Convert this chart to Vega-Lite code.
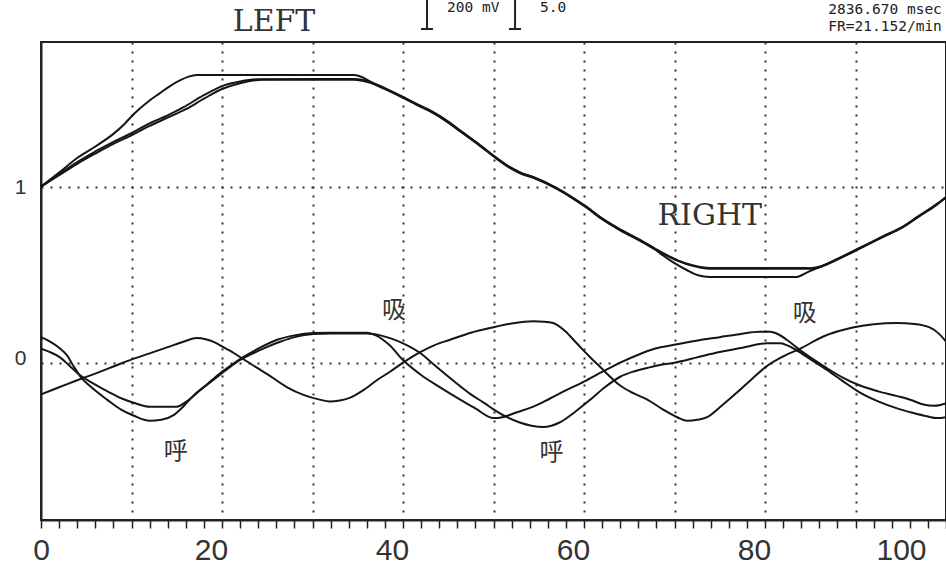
{
  "$schema": "https://vega.github.io/schema/vega-lite/v6.json",
  "width": 905,
  "height": 478,
  "autosize": {"type": "none"},
  "padding": {"left": 41, "top": 42, "right": 0, "bottom": 46},
  "background": "white",
  "config": {"view": {"stroke": "#222", "strokeWidth": 2}},
  "datasets": {
    "curves": [
      {"s":"U1","x":0,"y":1.0},{"s":"U1","x":2,"y":1.08},{"s":"U1","x":4,"y":1.163},{"s":"U1","x":6,"y":1.228},{"s":"U1","x":8,"y":1.3},{"s":"U1","x":9.2,"y":1.355},{"s":"U1","x":10.2,"y":1.41},{"s":"U1","x":12,"y":1.49},{"s":"U1","x":13.1,"y":1.53},{"s":"U1","x":14.3,"y":1.573},{"s":"U1","x":15.4,"y":1.605},{"s":"U1","x":16.3,"y":1.625},{"s":"U1","x":17.2,"y":1.635},{"s":"U1","x":25,"y":1.635},{"s":"U1","x":34.6,"y":1.635},{"s":"U1","x":35.5,"y":1.622},{"s":"U1","x":36.4,"y":1.597},{"s":"U1","x":38,"y":1.56},{"s":"U1","x":40,"y":1.51},{"s":"U1","x":41.5,"y":1.47},{"s":"U1","x":43.3,"y":1.425},{"s":"U1","x":45,"y":1.37},{"s":"U1","x":46.3,"y":1.32},{"s":"U1","x":48.5,"y":1.237},{"s":"U1","x":50.2,"y":1.169},{"s":"U1","x":51.8,"y":1.112},{"s":"U1","x":53,"y":1.08},{"s":"U1","x":54.4,"y":1.055},{"s":"U1","x":57,"y":0.992},{"s":"U1","x":58.7,"y":0.94},{"s":"U1","x":60.3,"y":0.885},{"s":"U1","x":62,"y":0.82},{"s":"U1","x":64,"y":0.757},{"s":"U1","x":66.2,"y":0.697},{"s":"U1","x":67.6,"y":0.655},{"s":"U1","x":68.7,"y":0.61},{"s":"U1","x":70,"y":0.565},{"s":"U1","x":71.4,"y":0.525},{"s":"U1","x":72.6,"y":0.497},{"s":"U1","x":73.9,"y":0.487},{"s":"U1","x":83.5,"y":0.487},{"s":"U1","x":84.6,"y":0.512},{"s":"U1","x":86,"y":0.542},{"s":"U1","x":88,"y":0.588},{"s":"U1","x":90.5,"y":0.65},{"s":"U1","x":93,"y":0.715},{"s":"U1","x":95.2,"y":0.77},{"s":"U1","x":97,"y":0.832},{"s":"U1","x":99,"y":0.9},{"s":"U1","x":100,"y":0.94},
      {"s":"U2","x":0,"y":1.0},{"s":"U2","x":2,"y":1.07},{"s":"U2","x":4,"y":1.14},{"s":"U2","x":6,"y":1.2},{"s":"U2","x":8,"y":1.255},{"s":"U2","x":10.2,"y":1.31},{"s":"U2","x":12,"y":1.36},{"s":"U2","x":14,"y":1.405},{"s":"U2","x":15.7,"y":1.45},{"s":"U2","x":18,"y":1.52},{"s":"U2","x":20.3,"y":1.577},{"s":"U2","x":22,"y":1.598},{"s":"U2","x":23.9,"y":1.61},{"s":"U2","x":34.5,"y":1.612},{"s":"U2","x":35.5,"y":1.607},{"s":"U2","x":36.4,"y":1.594},{"s":"U2","x":38,"y":1.557},{"s":"U2","x":40,"y":1.508},{"s":"U2","x":41.5,"y":1.468},{"s":"U2","x":43.3,"y":1.422},{"s":"U2","x":45,"y":1.367},{"s":"U2","x":46.3,"y":1.318},{"s":"U2","x":48.5,"y":1.235},{"s":"U2","x":50.2,"y":1.167},{"s":"U2","x":51.8,"y":1.11},{"s":"U2","x":53,"y":1.078},{"s":"U2","x":54.4,"y":1.053},{"s":"U2","x":57,"y":0.99},{"s":"U2","x":58.7,"y":0.938},{"s":"U2","x":60.3,"y":0.883},{"s":"U2","x":62,"y":0.818},{"s":"U2","x":64,"y":0.755},{"s":"U2","x":66.2,"y":0.695},{"s":"U2","x":68.4,"y":0.632},{"s":"U2","x":70.3,"y":0.583},{"s":"U2","x":72,"y":0.553},{"s":"U2","x":73.9,"y":0.538},{"s":"U2","x":83.9,"y":0.538},{"s":"U2","x":85,"y":0.537},{"s":"U2","x":86,"y":0.545},{"s":"U2","x":88,"y":0.59},{"s":"U2","x":90.5,"y":0.653},{"s":"U2","x":93,"y":0.717},{"s":"U2","x":95.2,"y":0.772},{"s":"U2","x":97,"y":0.834},{"s":"U2","x":99,"y":0.902},{"s":"U2","x":100,"y":0.942},
      {"s":"U3","x":0,"y":1.0},{"s":"U3","x":2,"y":1.065},{"s":"U3","x":4,"y":1.13},{"s":"U3","x":6,"y":1.188},{"s":"U3","x":8,"y":1.243},{"s":"U3","x":10.2,"y":1.297},{"s":"U3","x":12,"y":1.345},{"s":"U3","x":14,"y":1.392},{"s":"U3","x":16,"y":1.44},{"s":"U3","x":18,"y":1.5},{"s":"U3","x":20,"y":1.555},{"s":"U3","x":22,"y":1.588},{"s":"U3","x":24.5,"y":1.608},{"s":"U3","x":34.5,"y":1.608},{"s":"U3","x":35.5,"y":1.602},{"s":"U3","x":36.4,"y":1.59},{"s":"U3","x":38,"y":1.554},{"s":"U3","x":40,"y":1.505},{"s":"U3","x":41.5,"y":1.465},{"s":"U3","x":43.3,"y":1.419},{"s":"U3","x":45,"y":1.364},{"s":"U3","x":46.3,"y":1.315},{"s":"U3","x":48.5,"y":1.232},{"s":"U3","x":50.2,"y":1.164},{"s":"U3","x":51.8,"y":1.107},{"s":"U3","x":53,"y":1.075},{"s":"U3","x":54.4,"y":1.05},{"s":"U3","x":57,"y":0.987},{"s":"U3","x":58.7,"y":0.935},{"s":"U3","x":60.3,"y":0.88},{"s":"U3","x":62,"y":0.815},{"s":"U3","x":64,"y":0.752},{"s":"U3","x":66.2,"y":0.692},{"s":"U3","x":68.4,"y":0.628},{"s":"U3","x":70.3,"y":0.58},{"s":"U3","x":72,"y":0.55},{"s":"U3","x":73.9,"y":0.534},{"s":"U3","x":83.9,"y":0.534},{"s":"U3","x":85,"y":0.533},{"s":"U3","x":86,"y":0.542},{"s":"U3","x":88,"y":0.586},{"s":"U3","x":90.5,"y":0.649},{"s":"U3","x":93,"y":0.713},{"s":"U3","x":95.2,"y":0.768},{"s":"U3","x":97,"y":0.83},{"s":"U3","x":99,"y":0.898},{"s":"U3","x":100,"y":0.938},
      {"s":"C","x":0,"y":-0.18},{"s":"C","x":2,"y":-0.14},{"s":"C","x":4,"y":-0.1},{"s":"C","x":6,"y":-0.062},{"s":"C","x":8,"y":-0.022},{"s":"C","x":10.1,"y":0.02},{"s":"C","x":12,"y":0.053},{"s":"C","x":14,"y":0.088},{"s":"C","x":15.8,"y":0.12},{"s":"C","x":17.2,"y":0.14},{"s":"C","x":18.2,"y":0.133},{"s":"C","x":19.2,"y":0.115},{"s":"C","x":20.1,"y":0.09},{"s":"C","x":21.3,"y":0.055},{"s":"C","x":22.5,"y":0.015},{"s":"C","x":25,"y":-0.065},{"s":"C","x":27.2,"y":-0.14},{"s":"C","x":29,"y":-0.183},{"s":"C","x":30.8,"y":-0.21},{"s":"C","x":31.9,"y":-0.22},{"s":"C","x":33,"y":-0.215},{"s":"C","x":34.1,"y":-0.2},{"s":"C","x":35.5,"y":-0.16},{"s":"C","x":37.1,"y":-0.1},{"s":"C","x":38.6,"y":-0.05},{"s":"C","x":40,"y":0.0},{"s":"C","x":41.9,"y":0.06},{"s":"C","x":43.5,"y":0.1},{"s":"C","x":45.2,"y":0.13},{"s":"C","x":47.5,"y":0.17},{"s":"C","x":49.9,"y":0.2},{"s":"C","x":52,"y":0.222},{"s":"C","x":54.4,"y":0.235},{"s":"C","x":55.6,"y":0.233},{"s":"C","x":56.6,"y":0.225},{"s":"C","x":57.9,"y":0.18},{"s":"C","x":59.2,"y":0.11},{"s":"C","x":60.6,"y":0.035},{"s":"C","x":62.1,"y":-0.04},{"s":"C","x":63.1,"y":-0.09},{"s":"C","x":64,"y":-0.13},{"s":"C","x":65.5,"y":-0.175},{"s":"C","x":67,"y":-0.21},{"s":"C","x":68.7,"y":-0.265},{"s":"C","x":70.3,"y":-0.31},{"s":"C","x":71.4,"y":-0.33},{"s":"C","x":72.5,"y":-0.325},{"s":"C","x":73.6,"y":-0.31},{"s":"C","x":75.2,"y":-0.245},{"s":"C","x":76.9,"y":-0.17},{"s":"C","x":78.5,"y":-0.095},{"s":"C","x":80.2,"y":-0.02},{"s":"C","x":82,"y":0.035},{"s":"C","x":83.9,"y":0.08},{"s":"C","x":86.5,"y":0.15},{"s":"C","x":89.7,"y":0.2},{"s":"C","x":92,"y":0.218},{"s":"C","x":94.6,"y":0.225},{"s":"C","x":96.5,"y":0.22},{"s":"C","x":98.2,"y":0.2},{"s":"C","x":99.2,"y":0.165},{"s":"C","x":100,"y":0.12},
      {"s":"A","x":0,"y":0.145},{"s":"A","x":1,"y":0.12},{"s":"A","x":2,"y":0.085},{"s":"A","x":2.9,"y":0.04},{"s":"A","x":3.6,"y":-0.02},{"s":"A","x":4.3,"y":-0.075},{"s":"A","x":5.8,"y":-0.15},{"s":"A","x":7.3,"y":-0.21},{"s":"A","x":8.8,"y":-0.265},{"s":"A","x":10.2,"y":-0.3},{"s":"A","x":12,"y":-0.33},{"s":"A","x":13.3,"y":-0.325},{"s":"A","x":14.6,"y":-0.3},{"s":"A","x":15.7,"y":-0.25},{"s":"A","x":16.8,"y":-0.19},{"s":"A","x":18.3,"y":-0.125},{"s":"A","x":19.8,"y":-0.06},{"s":"A","x":21,"y":-0.015},{"s":"A","x":22.3,"y":0.03},{"s":"A","x":24.2,"y":0.085},{"s":"A","x":26.1,"y":0.13},{"s":"A","x":28,"y":0.155},{"s":"A","x":30.1,"y":0.168},{"s":"A","x":32,"y":0.17},{"s":"A","x":36,"y":0.17},{"s":"A","x":37,"y":0.155},{"s":"A","x":38.5,"y":0.1},{"s":"A","x":40,"y":0.015},{"s":"A","x":42,"y":-0.07},{"s":"A","x":44.1,"y":-0.14},{"s":"A","x":46,"y":-0.2},{"s":"A","x":48,"y":-0.26},{"s":"A","x":50,"y":-0.315},{"s":"A","x":51,"y":-0.31},{"s":"A","x":52.5,"y":-0.283},{"s":"A","x":54.4,"y":-0.25},{"s":"A","x":56.2,"y":-0.205},{"s":"A","x":58.1,"y":-0.155},{"s":"A","x":60,"y":-0.108},{"s":"A","x":62.1,"y":-0.05},{"s":"A","x":64,"y":0.0},{"s":"A","x":66,"y":0.045},{"s":"A","x":67.9,"y":0.08},{"s":"A","x":69.8,"y":0.1},{"s":"A","x":72.4,"y":0.125},{"s":"A","x":75,"y":0.145},{"s":"A","x":77.2,"y":0.162},{"s":"A","x":79.4,"y":0.175},{"s":"A","x":80.6,"y":0.175},{"s":"A","x":81.5,"y":0.16},{"s":"A","x":82.4,"y":0.13},{"s":"A","x":83.9,"y":0.07},{"s":"A","x":85.3,"y":0.02},{"s":"A","x":86.8,"y":-0.03},{"s":"A","x":88.6,"y":-0.085},{"s":"A","x":90.5,"y":-0.13},{"s":"A","x":92.5,"y":-0.163},{"s":"A","x":94.6,"y":-0.19},{"s":"A","x":96.3,"y":-0.215},{"s":"A","x":97.5,"y":-0.238},{"s":"A","x":98.7,"y":-0.245},{"s":"A","x":99.4,"y":-0.24},{"s":"A","x":100,"y":-0.232},
      {"s":"B","x":0,"y":0.08},{"s":"B","x":1,"y":0.06},{"s":"B","x":2.1,"y":0.03},{"s":"B","x":3.2,"y":-0.02},{"s":"B","x":4.3,"y":-0.07},{"s":"B","x":6,"y":-0.125},{"s":"B","x":7.6,"y":-0.17},{"s":"B","x":9,"y":-0.205},{"s":"B","x":10.5,"y":-0.232},{"s":"B","x":12,"y":-0.25},{"s":"B","x":15,"y":-0.25},{"s":"B","x":16.1,"y":-0.22},{"s":"B","x":17.5,"y":-0.16},{"s":"B","x":19,"y":-0.1},{"s":"B","x":20.5,"y":-0.04},{"s":"B","x":22,"y":0.015},{"s":"B","x":23.5,"y":0.055},{"s":"B","x":25,"y":0.09},{"s":"B","x":26.5,"y":0.12},{"s":"B","x":28,"y":0.145},{"s":"B","x":30.1,"y":0.163},{"s":"B","x":32,"y":0.166},{"s":"B","x":36,"y":0.166},{"s":"B","x":37.5,"y":0.155},{"s":"B","x":38.8,"y":0.135},{"s":"B","x":40,"y":0.11},{"s":"B","x":41.9,"y":0.055},{"s":"B","x":43.5,"y":-0.015},{"s":"B","x":45.5,"y":-0.1},{"s":"B","x":47.5,"y":-0.18},{"s":"B","x":49,"y":-0.23},{"s":"B","x":50,"y":-0.265},{"s":"B","x":51.5,"y":-0.31},{"s":"B","x":52.9,"y":-0.34},{"s":"B","x":54.2,"y":-0.358},{"s":"B","x":55.5,"y":-0.365},{"s":"B","x":56.4,"y":-0.358},{"s":"B","x":57.3,"y":-0.34},{"s":"B","x":59,"y":-0.28},{"s":"B","x":60.7,"y":-0.21},{"s":"B","x":62.3,"y":-0.14},{"s":"B","x":64,"y":-0.08},{"s":"B","x":65.5,"y":-0.05},{"s":"B","x":67,"y":-0.03},{"s":"B","x":68.5,"y":-0.012},{"s":"B","x":70,"y":0.0},{"s":"B","x":72.5,"y":0.03},{"s":"B","x":75,"y":0.06},{"s":"B","x":77.5,"y":0.085},{"s":"B","x":80.2,"y":0.11},{"s":"B","x":81.7,"y":0.11},{"s":"B","x":82.6,"y":0.095},{"s":"B","x":83.5,"y":0.07},{"s":"B","x":85,"y":0.02},{"s":"B","x":86.8,"y":-0.04},{"s":"B","x":88.6,"y":-0.105},{"s":"B","x":90.5,"y":-0.17},{"s":"B","x":92.5,"y":-0.22},{"s":"B","x":94.6,"y":-0.26},{"s":"B","x":96.3,"y":-0.285},{"s":"B","x":97.9,"y":-0.305},{"s":"B","x":99,"y":-0.315},{"s":"B","x":100,"y":-0.31}
    ],
    "cjk": [
      {"label": "吸", "x": 39.0, "y": 0.293},
      {"label": "吸", "x": 84.4, "y": 0.276},
      {"label": "呼", "x": 14.9, "y": -0.51},
      {"label": "呼", "x": 56.4, "y": -0.515}
    ],
    "sides": [
      {"label": "LEFT", "x": 25.75, "y": 1.884},
      {"label": "RIGHT", "x": 73.9, "y": 0.782}
    ],
    "info": [
      {"label": "2836.670 msec", "x": 87.0, "y": 1.981},
      {"label": "FR=21.152/min", "x": 87.0, "y": 1.885},
      {"label": "200 mV", "x": 44.86, "y": 1.993},
      {"label": "5.0", "x": 55.14, "y": 1.993}
    ],
    "bars": [
      {"x": 42.65, "x2": 42.65, "y": 1.896, "y2": 2.1},
      {"x": 41.99, "x2": 43.31, "y": 1.896, "y2": 1.896},
      {"x": 52.38, "x2": 52.38, "y": 1.896, "y2": 2.1},
      {"x": 51.71, "x2": 53.04, "y": 1.896, "y2": 1.896}
    ]
  },
  "layer": [
    {
      "data": {"name": "curves"},
      "mark": {"type": "line", "interpolate": "monotone", "color": "#151515", "strokeWidth": 2},
      "encoding": {
        "x": {
          "field": "x", "type": "quantitative",
          "scale": {"domain": [0, 100], "nice": false, "zero": false},
          "axis": {
            "values": [0,2,4,6,8,10,12,14,16,18,20,22,24,26,28,30,32,34,36,38,40,42,44,46,48,50,52,54,56,58,60,62,64,66,68,70,72,74,76,78,80,82,84,86,88,90,92,94,96,98,100],
            "tickCount": 200,
            "format": "d",
            "title": null,
            "domainColor": "#222", "domainWidth": 2,
            "tickColor": "#222", "tickWidth": 1.5, "tickSize": 8,
            "labelExpr": "datum.value % 20 === 0 ? datum.label : ''",
            "labelFont": "Liberation Sans", "labelFontSize": 30, "labelColor": "#333", "labelPadding": 7,
            "labelOffset": {"condition": [{"test": "datum.value === 0", "value": 0}, {"test": "datum.value === 100", "value": -45}], "value": -11},
            "labelOverlap": false, "labelFlush": false, "labelBound": false,
            "grid": true, "gridDash": [2, 7], "gridColor": "#333", "gridWidth": 2,
            "gridOpacity": {"condition": {"test": "datum.value % 10 === 0 && datum.value > 0 && datum.value < 100", "value": 1}, "value": 0}
          }
        },
        "y": {
          "field": "y", "type": "quantitative",
          "scale": {"domain": [-0.894, 1.822], "nice": false, "zero": false},
          "axis": {
            "values": [0, 1], "title": null, "format": "d",
            "domainColor": "#222", "domainWidth": 2,
            "ticks": false, "tickSize": 0,
            "labelFont": "Liberation Sans", "labelFontSize": 21, "labelColor": "#333", "labelPadding": 15,
            "labelOffset": {"condition": {"test": "datum.value === 0", "value": -4}, "value": 1},
            "grid": true, "gridDash": [2, 7], "gridColor": "#333", "gridWidth": 2
          }
        },
        "detail": {"field": "s"}
      }
    },
    {
      "data": {"name": "cjk"},
      "mark": {"type": "text", "font": "Noto Sans CJK SC", "fontSize": 24, "color": "#333", "align": "center", "baseline": "middle"},
      "encoding": {
        "x": {"field": "x", "type": "quantitative"},
        "y": {"field": "y", "type": "quantitative"},
        "text": {"field": "label"}
      }
    },
    {
      "data": {"name": "sides"},
      "mark": {"type": "text", "font": "DejaVu Serif", "fontSize": 30, "color": "#333", "align": "center", "baseline": "alphabetic"},
      "encoding": {
        "x": {"field": "x", "type": "quantitative"},
        "y": {"field": "y", "type": "quantitative"},
        "text": {"field": "label"}
      }
    },
    {
      "data": {"name": "info"},
      "mark": {"type": "text", "font": "DejaVu Sans Mono", "fontSize": 14.5, "color": "#222", "align": "left", "baseline": "alphabetic"},
      "encoding": {
        "x": {"field": "x", "type": "quantitative"},
        "y": {"field": "y", "type": "quantitative"},
        "text": {"field": "label"}
      }
    },
    {
      "data": {"name": "bars"},
      "mark": {"type": "rule", "color": "#222", "strokeWidth": 2},
      "encoding": {
        "x": {"field": "x", "type": "quantitative"},
        "x2": {"field": "x2"},
        "y": {"field": "y", "type": "quantitative"},
        "y2": {"field": "y2"}
      }
    }
  ]
}
